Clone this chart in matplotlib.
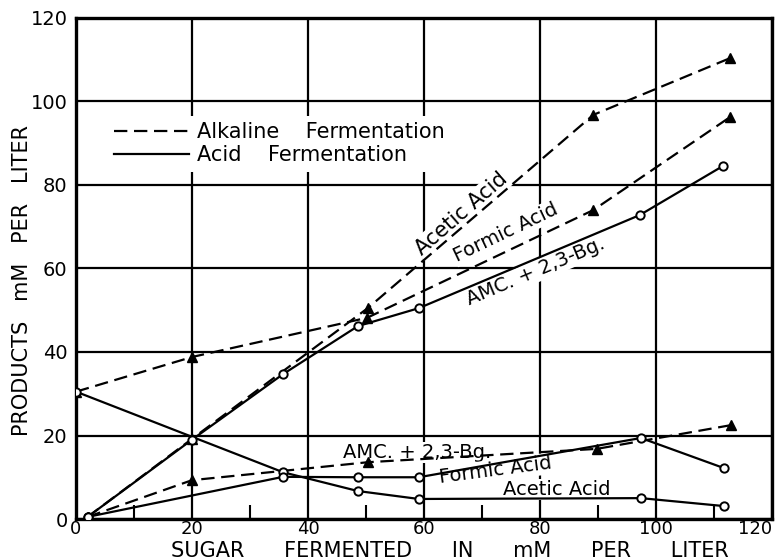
import matplotlib
matplotlib.use("Agg")
import matplotlib.pyplot as plt
from matplotlib.lines import Line2D

# Alkaline fermentation (dashed, filled triangles)
alk_acetic_x = [2, 20, 50.3, 89.2, 112.8]
alk_acetic_y = [0.5, 19.2, 50.5, 96.8, 110.4]
alk_formic_x = [0, 20, 50.2, 89.2, 112.8]
alk_formic_y = [30.5, 38.8, 48.2, 74.0, 96.3]
alk_amc_x = [2, 20, 50.3, 89.8, 113]
alk_amc_y = [0.5, 9.3, 13.6, 16.8, 22.5]

# Acid fermentation (solid, open circles)
acid_acetic_x = [0, 35.7, 48.6, 59.1, 97.4, 111.7]
acid_acetic_y = [30.5, 11.2, 6.7, 4.8, 5.0, 3.1]
acid_formic_x = [2, 35.7, 48.6, 59.1, 97.4, 111.7]
acid_formic_y = [0.5, 10.1, 10.0, 10.0, 19.4, 12.2]
acid_amc_x = [2, 20, 35.7, 48.6, 59.1, 97.2, 111.6]
acid_amc_y = [0.5, 19.0, 34.7, 46.2, 50.5, 72.8, 84.6]

ticks = [0, 20, 40, 60, 80, 100, 120]

fig = plt.figure(figsize=(7.77, 5.6), dpi=100)
ax = fig.add_axes([0.0978, 0.0732, 0.8958, 0.8947])

dash = (0, (6, 3))
kw_alk = dict(color='black', lw=1.6, linestyle=dash, marker='^', markersize=7,
              markerfacecolor='black', zorder=4)
kw_acid = dict(color='black', lw=1.6, linestyle='-', marker='o', markersize=6,
               markerfacecolor='white', markeredgewidth=1.4, zorder=4)

ax.plot(alk_acetic_x, alk_acetic_y, **kw_alk)
ax.plot(alk_formic_x, alk_formic_y, **kw_alk)
ax.plot(alk_amc_x, alk_amc_y, **kw_alk)
ax.plot(acid_acetic_x, acid_acetic_y, **kw_acid)
ax.plot(acid_formic_x, acid_formic_y, **kw_acid)
ax.plot(acid_amc_x, acid_amc_y, **kw_acid)

ax.set_xlim(0, 120)
ax.set_ylim(0, 120)
ax.set_xticks(ticks)
ax.set_yticks(ticks)
ax.set_xticks([10, 30, 50, 70, 90, 110], minor=True)
ax.tick_params(axis='both', which='major', length=0)
ax.tick_params(axis='x', which='major', pad=1, labelsize=13)
ax.tick_params(axis='y', which='major', pad=6, labelsize=14)
ax.tick_params(axis='x', which='minor', direction='in', length=10, width=1.5)
ax.get_xticklabels()[-1].set_horizontalalignment('right')
ax.grid(True, which='major', color='black', lw=1.6, zorder=1)
ax.set_axisbelow(True)
for s in ax.spines.values():
    s.set_linewidth(2.4)

gap = ' ' * 6
ax.set_xlabel(gap.join(['SUGAR', 'FERMENTED', 'IN', 'mM', 'PER', 'LITER']),
              fontsize=15, va='center')
ax.xaxis.set_label_coords(0.537, -0.064)
ax.set_ylabel('PRODUCTS   mM   PER   LITER', fontsize=15, va='center')
ax.yaxis.set_label_coords(-0.078, 0.477)

box = dict(facecolor='white', edgecolor='none', pad=1)
lab = dict(fontsize=14, ha='left', va='baseline', zorder=3, bbox=box,
           rotation_mode='anchor')
ax.text(59.7, 63.0, 'Acetic Acid', rotation=41, fontsize=15,
        **{k: v for k, v in lab.items() if k != 'fontsize'})
ax.text(65.7, 61.6, 'Formic Acid', rotation=25.5, **lab)
ax.text(67.9, 51.2, 'AMC. + 2,3-Bg.', rotation=22.8, **lab)
ax.text(46.0, 14.6, 'AMC. + 2,3-Bg.', rotation=0, **lab)
ax.text(62.8, 8.6, 'Formic Acid', rotation=7.4, **lab)
ax.text(73.6, 5.75, 'Acetic Acid', rotation=0, **lab)

handles = [Line2D([], [], color='black', lw=1.6, linestyle=dash),
           Line2D([], [], color='black', lw=1.6)]
leg = ax.legend(handles, ['Alkaline    Fermentation', 'Acid    Fermentation'],
                loc='upper left', bbox_to_anchor=(0.03, 0.825), fontsize=15,
                handlelength=3.6, handletextpad=0.4, labelspacing=0.15,
                frameon=True, fancybox=False, borderpad=0.3)
leg.get_frame().set_facecolor('white')
leg.get_frame().set_edgecolor('none')
leg.get_frame().set_alpha(1)

fig.savefig('out.png', dpi=100)
